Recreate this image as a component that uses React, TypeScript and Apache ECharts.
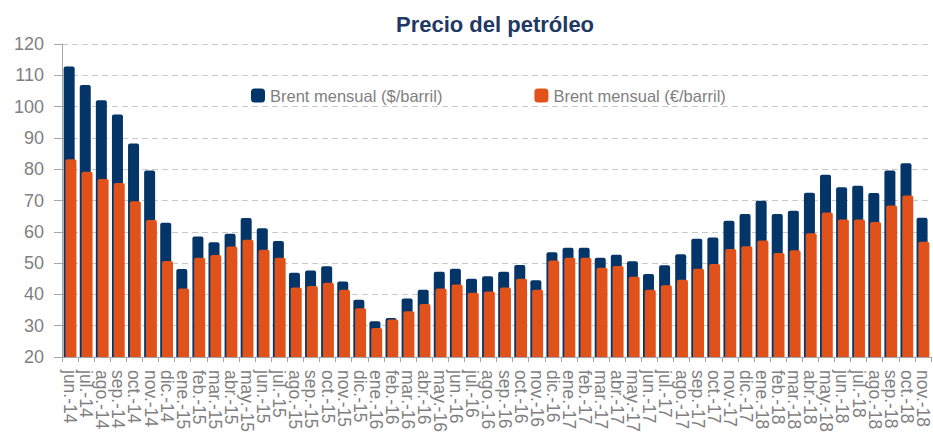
import React, { useEffect, useRef } from "react";
import * as echarts from "echarts";

const categories = [
  "jun.-14", "jul.-14", "ago.-14", "sep.-14", "oct.-14", "nov.-14", "dic.-14",
  "ene.-15", "feb.-15", "mar.-15", "abr.-15", "may.-15", "jun.-15", "jul.-15", "ago.-15", "sep.-15", "oct.-15", "nov.-15", "dic.-15",
  "ene.-16", "feb.-16", "mar.-16", "abr.-16", "may.-16", "jun.-16", "jul.-16", "ago.-16", "sep.-16", "oct.-16", "nov.-16", "dic.-16",
  "ene.-17", "feb.-17", "mar.-17", "abr.-17", "may.-17", "jun.-17", "jul.-17", "ago.-17", "sep.-17", "oct.-17", "nov.-17", "dic.-17",
  "ene.-18", "feb.-18", "mar.-18", "abr.-18", "may.-18", "jun.-18", "jul.-18", "ago.-18", "sep.-18", "oct.-18", "nov.-18",
];

const brentUsd = [
  112.8, 106.9, 102.0, 97.5, 88.2, 79.6, 62.9,
  48.1, 58.5, 56.7, 59.4, 64.4, 61.1, 57.1, 46.9, 47.6, 49.0, 44.1, 38.3,
  31.4, 32.5, 38.7, 41.5, 47.2, 48.2, 45.0, 45.8, 47.2, 49.4, 44.5, 53.5,
  54.9, 54.9, 51.7, 52.7, 50.6, 46.5, 49.3, 52.8, 57.8, 58.2, 63.5, 65.7,
  69.9, 65.7, 66.7, 72.5, 78.2, 74.2, 74.7, 72.4, 79.6, 81.9, 64.5,
];

const brentEur = [
  83.2, 79.2, 76.9, 75.6, 69.8, 63.8, 50.7,
  41.9, 51.7, 52.6, 55.3, 57.5, 54.3, 51.7, 42.2, 42.7, 43.7, 41.5, 35.6,
  29.3, 32.0, 34.6, 36.9, 41.9, 43.2, 40.5, 40.9, 42.2, 45.0, 41.5, 50.8,
  51.7, 51.7, 48.5, 49.1, 45.6, 41.5, 42.9, 44.7, 48.2, 49.7, 54.5, 55.4,
  57.2, 53.2, 54.1, 59.5, 66.2, 63.9, 63.9, 63.1, 68.4, 71.6, 56.8,
];

const FONT = "Liberation Sans";
const GRAY = "#7F7F7F";
const BLUE = "#033568";
const ORANGE = "#E1511A";

export default function App() {
  const ref = useRef<HTMLDivElement>(null);
  useEffect(() => {
    document.body.style.margin = "0";
    const chart = echarts.init(ref.current!, undefined, { renderer: "svg" });
    chart.setOption({
      animation: false,
      backgroundColor: "#FFFFFF",
      title: {
        text: "Precio del petróleo",
        left: 391,
        top: 8,
        textStyle: { fontFamily: FONT, fontSize: 22, fontWeight: "bold", color: "#1F3864" },
      },
      legend: {
        top: 82,
        left: 246,
        itemWidth: 14,
        itemHeight: 14,
        itemGap: 92,
        icon: "roundRect",
        textStyle: { fontFamily: FONT, fontSize: 16.5, color: GRAY },
        data: ["Brent mensual ($/barril)", "Brent mensual (€/barril)"],
      },
      grid: { left: 62, right: 2, top: 44, bottom: 78 },
      xAxis: {
        type: "category",
        data: categories,
        axisLine: { show: true, lineStyle: { color: "#A6A6A6", width: 1 } },
        axisTick: { show: true, length: 5, lineStyle: { color: "#A6A6A6" } },
        axisLabel: {
          interval: 0,
          rotate: -90,
          margin: 13,
          fontFamily: FONT,
          fontSize: 17.5,
          color: GRAY,
        },
      },
      yAxis: {
        type: "value",
        min: 20,
        max: 120,
        interval: 10,
        axisLine: { show: true, lineStyle: { color: "#A6A6A6", width: 1 } },
        axisTick: { show: true, length: 8, lineStyle: { color: "#A6A6A6" } },
        axisLabel: { fontFamily: FONT, fontSize: 18, color: GRAY, margin: 18 },
        splitLine: { show: true, lineStyle: { color: "#C8C8C8", type: [6, 4], width: 1 } },
      },
      series: [
        {
          name: "Brent mensual ($/barril)",
          type: "bar",
          data: brentUsd,
          barWidth: 11,
          barGap: "-84%",
          itemStyle: { color: BLUE, borderRadius: [2, 2, 0, 0] },
        },
        {
          name: "Brent mensual (€/barril)",
          type: "bar",
          data: brentEur,
          barWidth: 11,
          itemStyle: { color: ORANGE, borderRadius: [2, 2, 0, 0] },
        },
      ],
    });
    return () => chart.dispose();
  }, []);
  return <div ref={ref} style={{ position: "fixed", left: 0, top: 0, width: 933, height: 435 }} />;
}
